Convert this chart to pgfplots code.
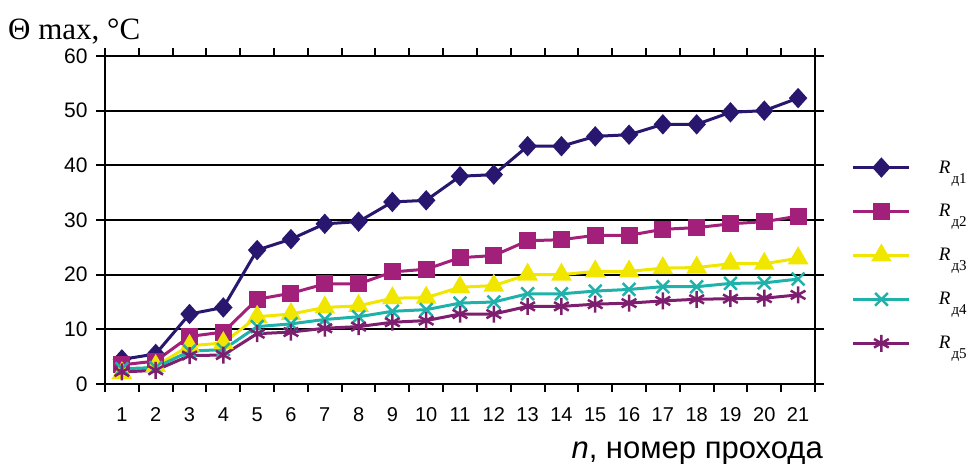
\documentclass[border=0pt]{standalone}
\usepackage{fontspec}
\setmainfont{Liberation Sans}
\newfontfamily\timesf{Liberation Serif}
\usepackage{pgfplots}
\pgfplotsset{compat=1.18}
\definecolor{cA}{RGB}{40,22,111}
\definecolor{cB}{RGB}{163,32,122}
\definecolor{cC}{RGB}{240,230,0}
\definecolor{cD}{RGB}{30,178,170}
\definecolor{cE}{RGB}{125,30,110}
\newcommand{\leg}[1]{{\timesf\fontsize{19bp}{19bp}\selectfont\itshape R}\kern1bp\raisebox{-10bp}{\timesf\fontsize{15bp}{15bp}\selectfont д#1}}
\begin{document}
\begin{tikzpicture}
\useasboundingbox (-105bp,-80bp) rectangle (867bp,384bp);
\begin{axis}[
  scale only axis, width=710bp, height=328bp,
  xmin=0.5, xmax=21.5, ymin=0, ymax=60,
  ytick={0,10,...,60},
  xtick={1,...,21},
  minor xtick={0.5,1.5,...,21.5},
  major x tick style={draw=none},
  tick align=outside,
  major tick length=9bp, minor tick length=8bp,
  tick style={black, line width=2bp},
  ymajorgrids,
  major grid style={black, line width=2bp},
  axis line style={black, line width=2.5bp},
  xticklabel style={font=\fontsize{20bp}{22bp}\selectfont, yshift=-11bp},
  yticklabel style={font=\fontsize{21bp}{23bp}\selectfont, xshift=-5bp},
  /pgf/number format/assume math mode=true,
  clip=false,
  legend style={at={(axis description cs:1.0517,0.392)}, anchor=west, draw=none, fill=none,
    row sep=26bp, column sep=26bp, legend cell align=left, inner sep=0pt},
  legend image code/.code={\draw[mark repeat=2,mark phase=2] plot coordinates {(0bp,0bp) (28bp,0bp) (56bp,0bp)};},
  every axis plot/.append style={line width=3bp},
]
\addplot[cA, mark=diamond*, mark size=8bp, mark options={solid, xscale=1.2}] coordinates {
(1,4.5)(2,5.5)(3,12.8)(4,14)(5,24.5)(6,26.5)(7,29.3)(8,29.7)(9,33.3)(10,33.6)(11,38)(12,38.3)(13,43.5)(14,43.5)(15,45.3)(16,45.6)(17,47.5)(18,47.5)(19,49.7)(20,50)(21,52.3)};
\addlegendentry{\leg{1}}
\addplot[cB, mark=square*, mark size=7bp, mark options={solid}] coordinates {
(1,3.5)(2,4.2)(3,8.7)(4,9.5)(5,15.5)(6,16.6)(7,18.3)(8,18.3)(9,20.5)(10,21)(11,23.1)(12,23.5)(13,26.2)(14,26.4)(15,27.2)(16,27.2)(17,28.3)(18,28.6)(19,29.3)(20,29.7)(21,30.7)};
\addlegendentry{\leg{2}}
\addplot[cC, mark=triangle*, mark size=9bp, mark options={solid}] coordinates {
(1,2)(2,3.3)(3,7)(4,7.5)(5,12.3)(6,12.8)(7,14)(8,14.3)(9,15.7)(10,15.8)(11,17.7)(12,18)(13,20)(14,20)(15,20.6)(16,20.6)(17,21.2)(18,21.3)(19,22)(20,22)(21,23)};
\addlegendentry{\leg{3}}
\addplot[cD, mark=x, mark size=9bp, mark options={solid, line width=2.5bp}] coordinates {
(1,2.8)(2,3)(3,6)(4,6.3)(5,10.5)(6,11)(7,11.8)(8,12.3)(9,13.3)(10,13.6)(11,14.8)(12,15)(13,16.5)(14,16.5)(15,17)(16,17.3)(17,17.8)(18,17.8)(19,18.4)(20,18.5)(21,19.2)};
\addlegendentry{\leg{4}}
\addplot[cE, mark=asterisk, mark size=8.5bp, mark options={solid, line width=2.5bp}] coordinates {
(1,2.2)(2,2.5)(3,5.2)(4,5.3)(5,9.2)(6,9.5)(7,10.2)(8,10.5)(9,11.3)(10,11.6)(11,12.8)(12,12.8)(13,14.2)(14,14.2)(15,14.6)(16,14.8)(17,15.2)(18,15.5)(19,15.6)(20,15.7)(21,16.3)};
\addlegendentry{\leg{5}}
\node[anchor=base west, inner sep=0pt, font=\timesf\fontsize{31bp}{31bp}\selectfont] at (axis description cs:-0.1366,1.0488) {Θ max, °C};
\node[font=\fontsize{31bp}{31bp}\selectfont] at (axis description cs:0.834,-0.21) {\textit{n}, номер прохода};
\end{axis}
\end{tikzpicture}
\end{document}
